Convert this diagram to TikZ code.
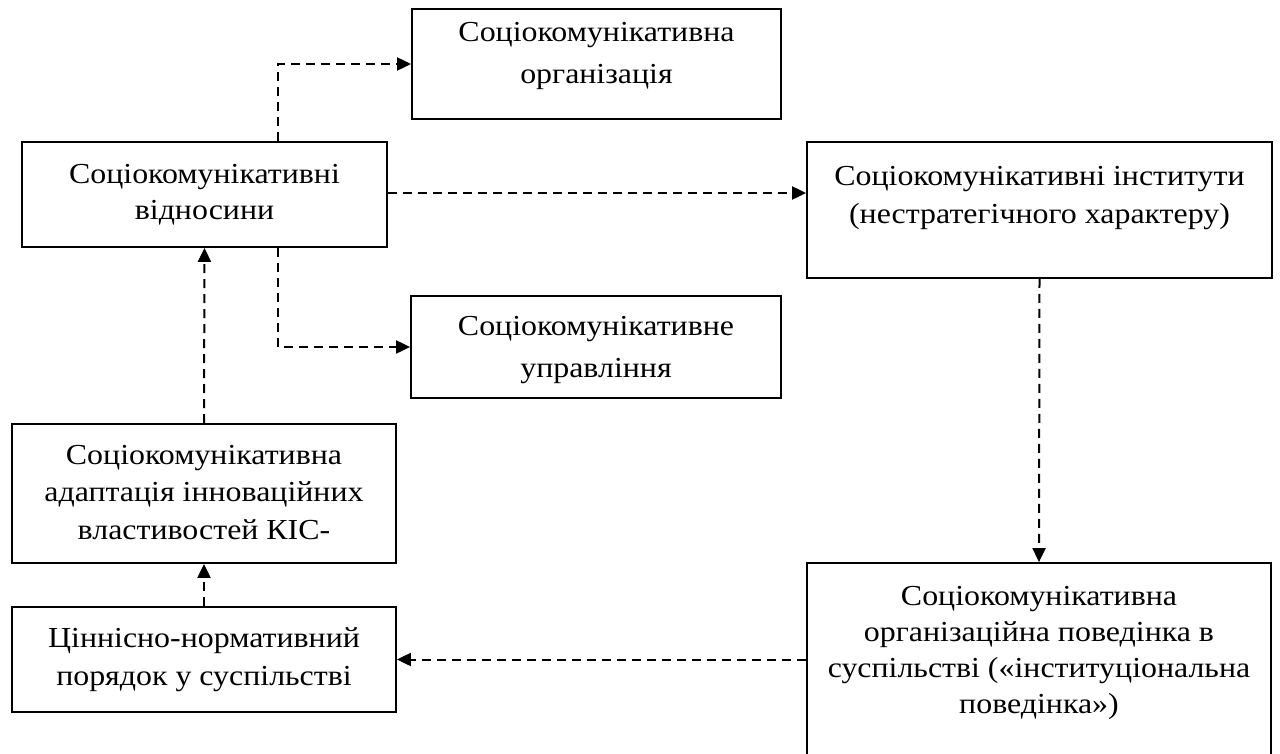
\documentclass[tikz,border=0pt]{standalone}
\usepackage{fontspec}
\setmainfont{Liberation Serif}[FakeStretch=1.1]
\usetikzlibrary{arrows.meta}
\begin{document}
\begin{tikzpicture}[x=1pt,y=-1pt,
  box/.style={draw=black, line width=1.8pt, inner sep=0pt, rectangle},
  txt/.style={inner sep=0pt, anchor=north, align=center},
  conn/.style={draw=black, line width=2pt, dash pattern=on 9pt off 6pt,
    -{Triangle[length=14pt,width=13pt]}}]
\useasboundingbox (0,0) rectangle (1280,753);
\clip (0,0) rectangle (1280,753);
% boxes
\node[box, minimum width=369pt, minimum height=110pt] (org) at (596.5,64) {};
\node[box, minimum width=365pt, minimum height=105pt] (rel) at (204.5,194.5) {};
\node[box, minimum width=465pt, minimum height=136pt] (inst) at (1039.5,210) {};
\node[box, minimum width=370pt, minimum height=102pt] (mgmt) at (596,347) {};
\node[box, minimum width=384pt, minimum height=139pt] (adapt) at (204,493.5) {};
\node[box, minimum width=384pt, minimum height=105pt] (val) at (204,659.5) {};
\node[box, minimum width=464pt, minimum height=207pt] (beh) at (1039,666.5) {};
% texts
\node[txt, font=\fontsize{29}{42}\selectfont] (orgt) at (596.5,11.6) {\strut Соціокомунікативна\\організація};
\node[txt, font=\fontsize{29}{36}\selectfont] (relt) at (204.5,157.8) {\strut Соціокомунікативні\\відносини};
\node[txt, font=\fontsize{29}{38}\selectfont] (instt) at (1039.5,158.4) {\strut Соціокомунікативні інститути\\(нестратегічного характеру)};
\node[txt, font=\fontsize{29}{42}\selectfont] (mgmtt) at (596,305.6) {\strut Соціокомунікативне\\управління};
\node[txt, font=\fontsize{29}{37.5}\selectfont] (adaptt) at (204,437.75) {\strut Соціокомунікативна\\адаптація інноваційних\\властивостей КІС-};
\node[txt, font=\fontsize{29}{38}\selectfont] (valt) at (204,620.4) {\strut Ціннісно-нормативний\\порядок у суспільстві};
\node[txt, font=\fontsize{29}{36}\selectfont] (beht) at (1039,579.8) {\strut Соціокомунікативна\\організаційна поведінка в\\суспільстві («інституціональна\\поведінка»)};
% connectors
\coordinate (relN) at ([xshift=73.5pt]rel.north);
\coordinate (relS) at ([xshift=73.5pt]rel.south);
\draw[conn] (relN) |- (org.west);
\draw[conn] (relS) |- (mgmt.west);
\draw[conn] ([yshift=1.5pt]rel.east) -- ([yshift=1.5pt]rel.east -| inst.west);
\draw[conn] (inst.south) -- (beh.north);
\draw[conn] (val.east -| beh.west) -- (val.east);
\draw[conn] (val.north) -- (adapt.south);
\draw[conn] (adapt.north) -- (rel.south);
\end{tikzpicture}
\end{document}
